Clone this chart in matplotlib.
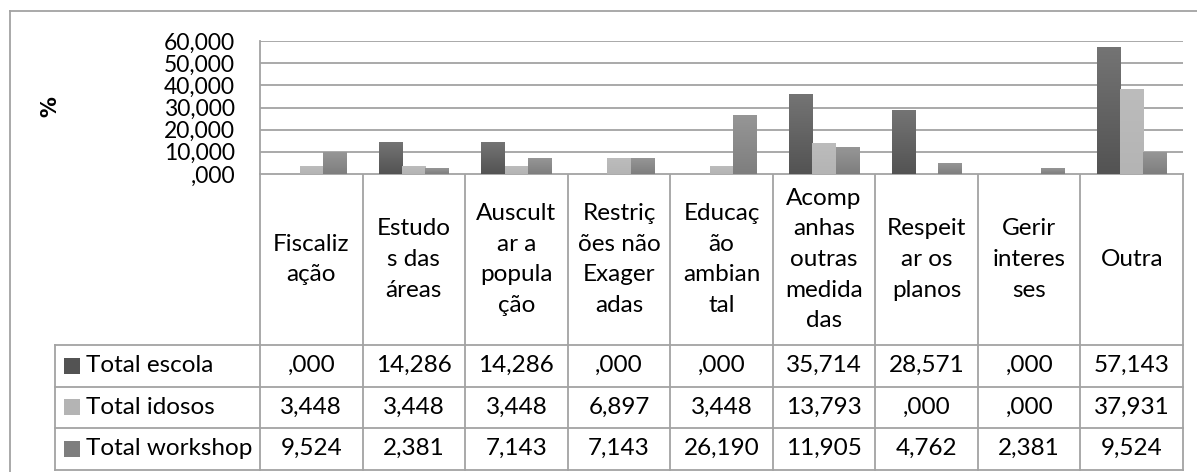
import numpy as np
import matplotlib
matplotlib.use("Agg")
import matplotlib.pyplot as plt
from matplotlib.colors import LinearSegmentedColormap
from matplotlib.lines import Line2D
from matplotlib.patches import Rectangle

# ---- data -------------------------------------------------------------
categories = [
    "Fiscaliz\nação",
    "Estudo\ns das\náreas",
    "Auscult\nar a\npopula\nção",
    "Restriç\nões não\nExager\nadas",
    "Educaç\não\nambian\ntal",
    "Acomp\nanhas\noutras\nmedida\ndas",
    "Respeit\nar os\nplanos",
    "Gerir\ninteres\nses",
    "Outra",
]
series_names = ["Total escola", "Total idosos", "Total workshop"]
total_escola = [0.000, 14.286, 14.286, 0.000, 0.000, 35.714, 28.571, 0.000, 57.143]
total_idosos = [3.448, 3.448, 3.448, 6.897, 3.448, 13.793, 0.000, 0.000, 37.931]
total_workshop = [9.524, 2.381, 7.143, 7.143, 26.190, 11.905, 4.762, 2.381, 9.524]
y_ticks = [0, 10, 20, 30, 40, 50, 60]

series = [total_escola, total_idosos, total_workshop]
# (top colour, bottom colour) of each series' gradient fill
fills = [("#747474", "#535353"), ("#bcbcbc", "#b4b4b4"), ("#969696", "#7e7e7e")]
line_col = "#a3a3a3"
FONT = "Lato"
FS = 17.5


def pt_fmt(v):
    s = f"{v:.3f}".replace(".", ",")
    return s[1:] if s.startswith("0,") else s


W, H, DPI = 1197, 472, 100
fig = plt.figure(figsize=(W / DPI, H / DPI), dpi=DPI)
plt.rcParams["font.family"] = [FONT, "DejaVu Sans"]

# ---- chart area -------------------------------------------------------
ax = fig.add_axes([260 / W, 1 - 174 / H, 923 / W, 133 / H])
ax.set_xlim(-0.5, len(categories) - 0.5)
ax.set_ylim(0, 60)

n = len(series)
bw = 1 / (n + 1.4)
x = np.arange(len(categories))
grad = np.linspace(0, 1, 128).reshape(-1, 1)
for k, (vals, (ctop, cbot)) in enumerate(zip(series, fills)):
    bars = ax.bar(x + (k - 1) * bw, vals, width=bw, color=cbot, lw=0, zorder=2)
    cmap = LinearSegmentedColormap.from_list(f"g{k}", [cbot, ctop])
    for b in bars:
        h = b.get_height()
        if h <= 0:
            continue
        x0 = b.get_x()
        ax.imshow(grad, extent=[x0, x0 + b.get_width(), 0, h], origin="lower",
                  aspect="auto", cmap=cmap, zorder=3, interpolation="bilinear")
ax.set_xlim(-0.5, len(categories) - 0.5)
ax.set_ylim(0, 60)

ax.set_yticks(y_ticks)
ax.set_yticklabels([pt_fmt(v) for v in y_ticks], fontsize=16.5, family=FONT)
ax.set_xticks([])
ax.tick_params(axis="y", length=0, pad=18)
ax.yaxis.grid(True, color=line_col, lw=1.3)
ax.set_axisbelow(True)
for side in ["top", "right", "bottom"]:
    ax.spines[side].set_visible(False)
ax.spines["left"].set_color(line_col)
ax.spines["left"].set_linewidth(1.3)
ax.set_ylabel("%", fontsize=15, fontweight="bold", family="DejaVu Sans")
ax.yaxis.set_label_coords((60 - 260) / 923, (174 - 107) / 133)

# ---- data table below the chart (pixel coordinates) --------------------
tab = fig.add_axes([0, 0, 1, 1], zorder=-1)
tab.set_xlim(0, W)
tab.set_ylim(H, 0)
tab.axis("off")

edges = np.arange(len(categories) + 1) - 0.5
col_px = ax.transData.transform(np.column_stack([edges, np.zeros_like(edges)]))[:, 0]
y_axis0 = H - ax.transData.transform((0, 0))[1]
head_bot = 345
row_edges = [345, 386.5, 428, 469.5]
leg_left = 55


def hline(y, x0, x1):
    tab.add_line(Line2D([x0, x1], [y, y], color=line_col, lw=1.3))


def vline(xv, y0, y1):
    tab.add_line(Line2D([xv, xv], [y0, y1], color=line_col, lw=1.3))


hline(y_axis0, col_px[0], col_px[-1])
for yv in row_edges:
    hline(yv, leg_left, col_px[-1])
for xv in col_px:
    vline(xv, y_axis0, row_edges[-1])
vline(leg_left, head_bot, row_edges[-1])

# outer chart frame
vline(10, 11, H)
hline(11, 10, W)

centers = (col_px[:-1] + col_px[1:]) / 2
for cx, lab in zip(centers, categories):
    tab.text(cx, (y_axis0 + head_bot) / 2, lab, ha="center", va="center",
             multialignment="center", fontsize=FS, linespacing=1.57, family=FONT)

for r, (name, vals, (ctop, cbot)) in enumerate(zip(series_names, series, fills)):
    yc = (row_edges[r] + row_edges[r + 1]) / 2
    tab.add_patch(Rectangle((64, yc - 8), 16, 16, facecolor=cbot, lw=0))
    tab.text(86, yc, name, ha="left", va="center", fontsize=FS, family=FONT)
    for cx, v in zip(centers, vals):
        tab.text(cx, yc, pt_fmt(v), ha="center", va="center", fontsize=FS, family=FONT)

fig.savefig("out.png", dpi=DPI, facecolor="white")
